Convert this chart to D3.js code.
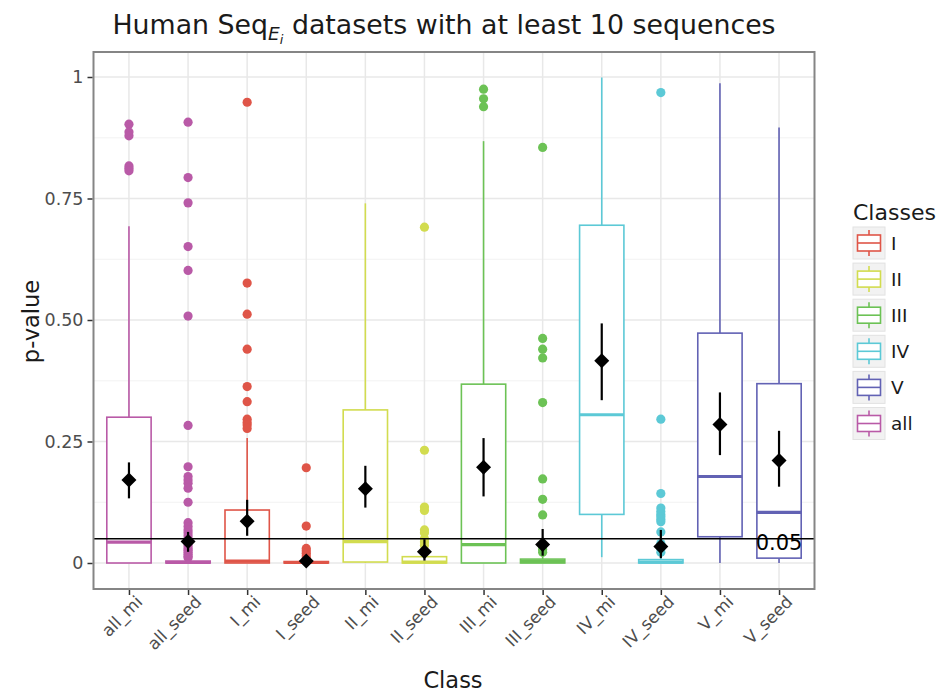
<!DOCTYPE html>
<html>
<head>
<meta charset="utf-8">
<script src="https://cdn.jsdelivr.net/npm/d3@7"></script>
<style>
  html, body { margin: 0; padding: 0; background: #fff; }
  svg { display: block; font-family: "DejaVu Sans", sans-serif; }
</style>
</head>
<body>
<svg id="chart" width="945" height="693"></svg>
<script>
// ---- data -------------------------------------------------------------
const categories = ["all_mi","all_seed","I_mi","I_seed","II_mi","II_seed",
                    "III_mi","III_seed","IV_mi","IV_seed","V_mi","V_seed"];
const classOf    = ["all","all","I","I","II","II","III","III","IV","IV","V","V"];

// box summaries (per category)
const whiskerLow  = [0,     0,     0,     0,     0,     0,     0,     0,     0.012, 0,     0,     0];
const q1          = [0,     0,     0,     0,     0.002, 0,     0,     0,     0.100, 0,     0.054, 0.010];
const median      = [0.043, 0.001, 0.004, 0.001, 0.044, 0.002, 0.038, 0.003, 0.305, 0.002, 0.178, 0.104];
const q3          = [0.300, 0.004, 0.109, 0.003, 0.315, 0.013, 0.368, 0.008, 0.695, 0.007, 0.473, 0.369];
const whiskerHigh = [0.693, 0.009, 0.257, 0.006, 0.740, 0.030, 0.868, 0.018, 0.999, 0.016, 0.987, 0.896];

// means with confidence intervals
const meanVal = [0.171, 0.044, 0.086, 0.004, 0.153, 0.023, 0.197, 0.038, 0.416, 0.034, 0.285, 0.211];
const ciLow   = [0.133, 0.023, 0.056, 0.001, 0.114, 0.005, 0.137, 0.015, 0.335, 0.010, 0.222, 0.157];
const ciHigh  = [0.207, 0.064, 0.130, 0.008, 0.200, 0.049, 0.257, 0.070, 0.493, 0.068, 0.351, 0.272];

// outlying p-values
const outliers = [
  [0.903, 0.887, 0.879, 0.817, 0.812, 0.807],
  [0.907, 0.793, 0.741, 0.651, 0.602, 0.508, 0.283, 0.198, 0.178, 0.171, 0.164, 0.154, 0.125,
   0.083, 0.075, 0.068, 0.062, 0.056, 0.050, 0.045, 0.040, 0.035, 0.030, 0.026, 0.022, 0.018, 0.014, 0.011],
  [0.948, 0.576, 0.512, 0.440, 0.363, 0.332, 0.296, 0.289, 0.284, 0.277],
  [0.196, 0.076, 0.030, 0.025, 0.020, 0.015, 0.010],
  [],
  [0.691, 0.232, 0.115, 0.108, 0.068, 0.062, 0.050, 0.043, 0.036],
  [0.975, 0.955, 0.939],
  [0.855, 0.462, 0.440, 0.422, 0.330, 0.173, 0.131, 0.099, 0.035, 0.028, 0.022],
  [],
  [0.968, 0.296, 0.143, 0.113, 0.106, 0.100, 0.095, 0.090, 0.085, 0.064, 0.040, 0.030, 0.022],
  [],
  []
];

const threshold = 0.05;
const legendClasses = ["I","II","III","IV","V","all"];
const classColors   = ["#df5548","#d2dc4f","#6cc255","#5cc9d6","#6262b4","#b95aa7"];
const yTicks      = [0, 0.25, 0.5, 0.75, 1];
const yTickLabels = ["0", "0.25", "0.50", "0.75", "1"];
const yMinor      = [0.125, 0.375, 0.625, 0.875];

// ---- layout -------------------------------------------------------------
const svg = d3.select("#chart");
const panel = { left: 93.5, right: 814.5, top: 52, bottom: 589 };

const x = d3.scalePoint().domain(categories).range([panel.left, panel.right]).padding(0.6);
const y = d3.scaleLinear().domain([0, 1]).range([563, 77]);
const color = d3.scaleOrdinal().domain(legendClasses).range(classColors);
const boxW = x.step() * 0.75;

const rows = categories.map((c, i) => ({
  cat: c, cls: classOf[i],
  lo: whiskerLow[i], q1: q1[i], med: median[i], q3: q3[i], hi: whiskerHigh[i],
  mean: meanVal[i], cl: ciLow[i], ch: ciHigh[i], out: outliers[i]
}));

// panel background + grid
svg.append("rect").attr("x", panel.left).attr("y", panel.top)
  .attr("width", panel.right - panel.left).attr("height", panel.bottom - panel.top)
  .attr("fill", "#fff");

const grid = svg.append("g");
grid.selectAll("line.minor").data(yMinor).join("line")
  .attr("x1", panel.left).attr("x2", panel.right)
  .attr("y1", d => y(d)).attr("y2", d => y(d))
  .attr("stroke", "#f0f0f0").attr("stroke-width", 0.9);
grid.selectAll("line.majy").data(yTicks).join("line")
  .attr("x1", panel.left).attr("x2", panel.right)
  .attr("y1", d => y(d)).attr("y2", d => y(d))
  .attr("stroke", "#e8e8e8").attr("stroke-width", 1.5);
grid.selectAll("line.majx").data(categories).join("line")
  .attr("x1", d => x(d)).attr("x2", d => x(d))
  .attr("y1", panel.top).attr("y2", panel.bottom)
  .attr("stroke", "#e8e8e8").attr("stroke-width", 1.5);

// boxplots
const boxes = svg.append("g").selectAll("g").data(rows).join("g")
  .attr("stroke", d => color(d.cls)).attr("fill", "none");
boxes.append("line")
  .attr("x1", d => x(d.cat)).attr("x2", d => x(d.cat))
  .attr("y1", d => y(d.q3)).attr("y2", d => y(d.hi)).attr("stroke-width", 1.6);
boxes.append("line")
  .attr("x1", d => x(d.cat)).attr("x2", d => x(d.cat))
  .attr("y1", d => y(d.q1)).attr("y2", d => y(d.lo)).attr("stroke-width", 1.6);
boxes.append("rect")
  .attr("x", d => x(d.cat) - boxW / 2).attr("width", boxW)
  .attr("y", d => y(d.q3)).attr("height", d => Math.max(0, y(d.q1) - y(d.q3)))
  .attr("fill", "#fff").attr("stroke-width", 1.6);
boxes.append("line")
  .attr("x1", d => x(d.cat) - boxW / 2).attr("x2", d => x(d.cat) + boxW / 2)
  .attr("y1", d => y(d.med)).attr("y2", d => y(d.med)).attr("stroke-width", 3.2);
boxes.each(function (d) {
  d3.select(this).selectAll("circle").data(d.out).join("circle")
    .attr("cx", x(d.cat)).attr("cy", v => y(v)).attr("r", 4.6)
    .attr("fill", color(d.cls)).attr("stroke", "none");
});

// significance threshold
svg.append("line")
  .attr("x1", panel.left).attr("x2", panel.right)
  .attr("y1", y(threshold)).attr("y2", y(threshold))
  .attr("stroke", "#000").attr("stroke-width", 1.6);

// means with confidence intervals
const means = svg.append("g").selectAll("g").data(rows).join("g");
means.append("line")
  .attr("x1", d => x(d.cat)).attr("x2", d => x(d.cat))
  .attr("y1", d => y(d.cl)).attr("y2", d => y(d.ch))
  .attr("stroke", "#000").attr("stroke-width", 2.2);
means.append("path")
  .attr("d", d => {
    const cx = x(d.cat), cy = y(d.mean), r = 7.5;
    return `M${cx},${cy - r}L${cx + r},${cy}L${cx},${cy + r}L${cx - r},${cy}Z`;
  })
  .attr("fill", "#000");

svg.append("text")
  .attr("x", x("V_seed")).attr("y", y(threshold) + 4)
  .attr("text-anchor", "middle").attr("dominant-baseline", "central")
  .attr("font-size", 21).attr("fill", "#000").text("0.05");

// panel border
svg.append("rect").attr("x", panel.left).attr("y", panel.top)
  .attr("width", panel.right - panel.left).attr("height", panel.bottom - panel.top)
  .attr("fill", "none").attr("stroke", "#858585").attr("stroke-width", 2);

// y axis
const yAxis = svg.append("g").attr("transform", `translate(${panel.left - 1},0)`)
  .call(d3.axisLeft(y).tickValues(yTicks).tickSize(5).tickPadding(4)
    .tickFormat((d, i) => yTickLabels[i]));
yAxis.select(".domain").remove();
yAxis.selectAll(".tick line").attr("stroke", "#333").attr("stroke-width", 1.5);
yAxis.selectAll(".tick text").attr("fill", "#4d4d4d").attr("font-size", 17.5)
  .attr("font-family", "DejaVu Sans, sans-serif");

// x axis
const xAxis = svg.append("g").attr("transform", `translate(0,${panel.bottom + 1})`)
  .call(d3.axisBottom(x).tickSize(5).tickPadding(3));
xAxis.select(".domain").remove();
xAxis.selectAll(".tick line").attr("stroke", "#333").attr("stroke-width", 1.5);
xAxis.selectAll(".tick text")
  .attr("fill", "#4d4d4d").attr("font-size", 16.8).attr("font-family", "DejaVu Sans, sans-serif")
  .attr("text-anchor", "end").attr("dy", null).attr("y", 0)
  .attr("transform", "translate(14,13) rotate(-45)");

// axis titles
svg.append("text").attr("x", (panel.left + panel.right) / 2 - 1).attr("y", 688)
  .attr("text-anchor", "middle").attr("font-size", 22.5).attr("fill", "#1a1a1a").text("Class");
svg.append("text").attr("transform", `translate(39,${(panel.top + panel.bottom) / 2 + 1}) rotate(-90)`)
  .attr("text-anchor", "middle").attr("font-size", 22.5).attr("fill", "#1a1a1a").text("p-value");

// title with subscript E_i
const title = svg.append("text").attr("x", 444).attr("y", 34)
  .attr("text-anchor", "middle").attr("font-size", 26.8).attr("fill", "#1a1a1a");
title.append("tspan").text("Human Seq");
title.append("tspan").attr("font-size", 18.5).attr("font-style", "italic").attr("dy", 5.5).text("E");
title.append("tspan").attr("font-size", 13).attr("font-style", "italic").attr("dy", 4).text("i");
title.append("tspan").attr("dy", -9.5).text(" datasets with at least 10 sequences");

// legend
const legend = svg.append("g").attr("transform", "translate(853,0)");
legend.append("text").attr("x", 0).attr("y", 220).attr("font-size", 22)
  .attr("fill", "#1a1a1a").text("Classes");
const keys = legend.selectAll("g.key").data(legendClasses).join("g")
  .attr("transform", (d, i) => `translate(0,${227 + i * 36.1})`);
keys.append("rect").attr("width", 32).attr("height", 32)
  .attr("fill", "#f2f2f2").attr("stroke", "#e2e2e2").attr("stroke-width", 1);
keys.append("line").attr("x1", 16).attr("x2", 16).attr("y1", 3).attr("y2", 29)
  .attr("stroke", d => color(d)).attr("stroke-width", 1.6);
keys.append("rect").attr("x", 4.5).attr("y", 8).attr("width", 23).attr("height", 16)
  .attr("fill", "#fff").attr("stroke", d => color(d)).attr("stroke-width", 1.6);
keys.append("line").attr("x1", 4.5).attr("x2", 27.5).attr("y1", 16).attr("y2", 16)
  .attr("stroke", d => color(d)).attr("stroke-width", 1.6);
keys.append("text").attr("x", 38).attr("y", 16).attr("dominant-baseline", "central")
  .attr("font-size", 18.5).attr("fill", "#1a1a1a").text(d => d);
</script>
</body>
</html>
